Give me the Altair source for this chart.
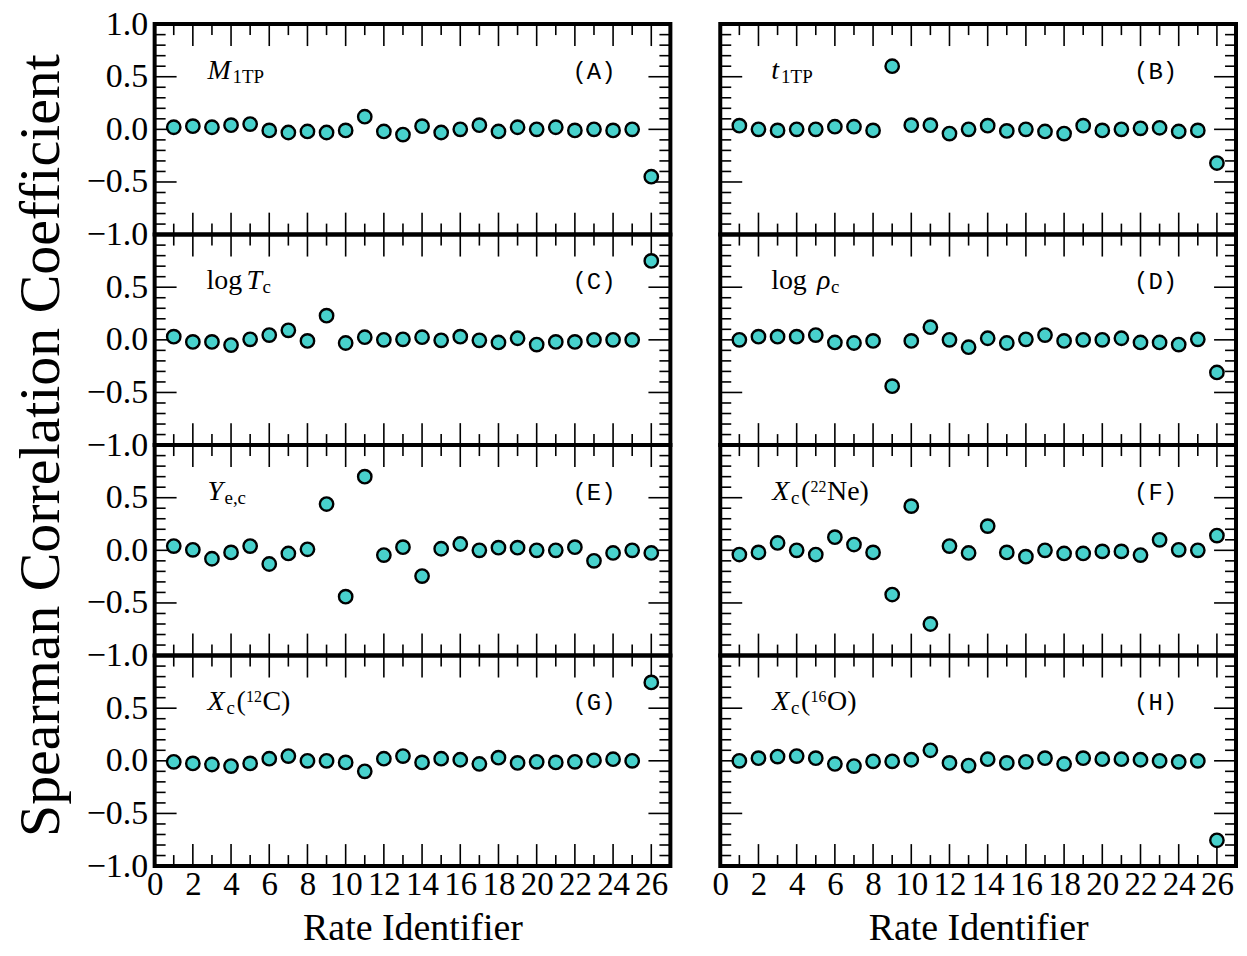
import altair as alt
import pandas as pd

SERIF = "Liberation Serif"
MONO = "Liberation Mono"
TEAL = "#48D1CC"

rate_id = list(range(1, 27))

m_1tp = [0.02, 0.03, 0.02, 0.04, 0.05, -0.01, -0.03, -0.02, -0.03, -0.01, 0.12, -0.02, -0.05,
         0.03, -0.03, 0.00, 0.04, -0.02, 0.02, 0.00, 0.02, -0.01, 0.00, -0.01, 0.00, -0.45]
t_1tp = [0.035, 0.00, -0.01, 0.00, 0.00, 0.025, 0.025, -0.01, 0.60, 0.04, 0.04, -0.04, 0.00,
         0.035, -0.015, 0.00, -0.02, -0.04, 0.035, -0.01, 0.00, 0.01, 0.015, -0.02, -0.01, -0.32]
log_tc = [0.03, -0.02, -0.02, -0.05, 0.005, 0.045, 0.09, -0.01, 0.23, -0.03, 0.025, 0.00, 0.005,
          0.025, -0.005, 0.03, -0.005, -0.025, 0.015, -0.045, -0.02, -0.02, 0.00, 0.00, 0.00, 0.75]
log_rhoc = [0.00, 0.03, 0.03, 0.03, 0.045, -0.025, -0.03, -0.01, -0.44, -0.01, 0.12, 0.00, -0.07,
            0.015, -0.03, 0.005, 0.045, -0.01, 0.00, 0.00, 0.015, -0.025, -0.025, -0.045, 0.005, -0.31]
y_ec = [0.04, 0.005, -0.08, -0.02, 0.04, -0.13, -0.03, 0.01, 0.44, -0.44, 0.70, -0.045, 0.03,
        -0.245, 0.015, 0.06, 0.00, 0.025, 0.025, 0.00, 0.00, 0.03, -0.10, -0.025, 0.00, -0.025]
x_ne22 = [-0.04, -0.02, 0.07, 0.00, -0.04, 0.125, 0.055, -0.02, -0.42, 0.42, -0.70, 0.04, -0.025,
          0.23, -0.02, -0.06, 0.00, -0.03, -0.03, -0.01, -0.01, -0.045, 0.10, 0.005, 0.00, 0.14]
x_c12 = [-0.01, -0.025, -0.035, -0.05, -0.025, 0.02, 0.045, 0.00, 0.00, -0.015, -0.10, 0.02, 0.045,
         -0.015, 0.02, 0.01, -0.03, 0.03, -0.02, -0.01, -0.015, -0.01, 0.005, 0.015, 0.00, 0.745]
x_o16 = [0.00, 0.025, 0.04, 0.045, 0.025, -0.03, -0.05, -0.005, -0.005, 0.01, 0.10, -0.02, -0.045,
         0.015, -0.02, -0.01, 0.025, -0.03, 0.025, 0.015, 0.015, 0.01, 0.00, -0.01, 0.00, -0.755]

panel_tags = ["(A)", "(B)", "(C)", "(D)", "(E)", "(F)", "(G)", "(H)"]
panel_series = [m_1tp, t_1tp, log_tc, log_rhoc, y_ec, x_ne22, x_c12, x_o16]
y_title = "Spearman Correlation Coefficient"
x_title = "Rate Identifier"

# label pieces: (text, dx, baseline y, font size, style)
MAIN, SUB, SUP = 28, 19, 16
BL, SBL, PBL = 55, 59, 47
panel_labels = [
    [("M", 53, BL, MAIN, "italic"), ("1TP", 78, SBL, SUB, "normal")],
    [("t", 51, BL, MAIN, "italic"), ("1TP", 61, SBL, SUB, "normal")],
    [("log", 52, BL, MAIN, "normal"), ("T", 92, BL, MAIN, "italic"), ("c", 108, SBL, SUB, "normal")],
    [("log", 51, BL, MAIN, "normal"), ("ρ", 97, BL, MAIN, "italic"), ("c", 111, SBL, SUB, "normal")],
    [("Y", 53, BL, MAIN, "italic"), ("e,c", 70, SBL, SUB, "normal")],
    [("X", 52, BL, MAIN, "italic"), ("c", 71, SBL, SUB, "normal"), ("(", 81, BL, MAIN, "normal"),
     ("22", 90.5, PBL, SUP, "normal"), ("Ne)", 107, BL, MAIN, "normal")],
    [("X", 53, BL, MAIN, "italic"), ("c", 72, SBL, SUB, "normal"), ("(", 82, BL, MAIN, "normal"),
     ("12", 91.5, PBL, SUP, "normal"), ("C)", 108, BL, MAIN, "normal")],
    [("X", 52, BL, MAIN, "italic"), ("c", 71, SBL, SUB, "normal"), ("(", 81, BL, MAIN, "normal"),
     ("16", 90.5, PBL, SUP, "normal"), ("O)", 107, BL, MAIN, "normal")],
]

major_x = [0, 2, 4, 6, 8, 10, 12, 14, 16, 18, 20, 22, 24, 26]
minor_x = [1, 3, 5, 7, 9, 11, 13, 15, 17, 19, 21, 23, 25]
major_y = [-1.0, -0.5, 0.0, 0.5, 1.0]
minor_y = [-0.9, -0.8, -0.7, -0.6, -0.4, -0.3, -0.2, -0.1, 0.1, 0.2, 0.3, 0.4, 0.6, 0.7, 0.8, 0.9]
ylabels_top = [1.0, 0.5, 0.0, -0.5, -1.0]
ylabels_rest = [0.5, 0.0, -0.5, -1.0]

W, H = 517, 211
MAJ, MIN = 22, 11
TW = 1.6

xscale = alt.Scale(domain=[0, 27], nice=False, zero=False)
yscale = alt.Scale(domain=[-1, 1], nice=False, zero=False)


def make_panel(i):
    row, col = divmod(i, 2)
    if row == 3:
        xaxis = alt.Axis(values=major_x, title=x_title, ticks=False, domain=False, grid=False,
                         labelFont=SERIF, labelFontSize=33, labelColor="black", labelPadding=3,
                         labelFlush=False, labelOverlap=False, titleFont=SERIF, titleFontSize=38,
                         titleFontWeight="normal", titleColor="black", titlePadding=8)
    else:
        xaxis = None
    if col == 0:
        yargs = dict(values=ylabels_top if row == 0 else ylabels_rest, format=".1f", title=None,
                     ticks=False, domain=False, grid=False, labelFont=SERIF, labelFontSize=34,
                     labelColor="black", labelPadding=7, labelFlush=False, labelOverlap=False)
        if row == 1:
            yargs.update(title=y_title, titleX=-113, titleY=H, titleAngle=270, titleAlign="center",
                         titleBaseline="middle", titleFont=SERIF, titleFontSize=58,
                         titleFontWeight="normal", titleColor="black")
        yaxis = alt.Axis(**yargs)
    else:
        yaxis = None

    df = pd.DataFrame({"id": rate_id, "v": panel_series[i]})
    X = alt.X("id:Q", scale=xscale, axis=xaxis)
    Y = alt.Y("v:Q", scale=yscale, axis=yaxis)

    layers = []
    dmx = pd.DataFrame({"id": major_x})
    dnx = pd.DataFrame({"id": minor_x})
    dmy = pd.DataFrame({"v": major_y})
    dny = pd.DataFrame({"v": minor_y})
    for d, L in ((dmx, MAJ), (dnx, MIN)):
        layers.append(alt.Chart(d).mark_rule(color="black", strokeWidth=TW).encode(
            x=X, y=alt.value(0), y2=alt.value(L)))
        layers.append(alt.Chart(d).mark_rule(color="black", strokeWidth=TW).encode(
            x=X, y=alt.value(H - L), y2=alt.value(H)))
    for d, L in ((dmy, MAJ), (dny, MIN)):
        layers.append(alt.Chart(d).mark_rule(color="black", strokeWidth=TW).encode(
            y=Y, x=alt.value(0), x2=alt.value(L)))
        layers.append(alt.Chart(d).mark_rule(color="black", strokeWidth=TW).encode(
            y=Y, x=alt.value(W - L), x2=alt.value(W)))

    layers.append(alt.Chart(df).mark_point(shape="circle", filled=True, fill=TEAL, stroke="black",
                                           strokeWidth=2.4, size=180, opacity=1).encode(x=X, y=Y))

    for (txt, dx, by, fs, style) in panel_labels[i]:
        layers.append(alt.Chart(pd.DataFrame({"s": [txt]})).mark_text(
            align="left", baseline="alphabetic", font=SERIF, fontSize=fs, fontStyle=style,
            color="black").encode(x=alt.value(dx), y=alt.value(by), text="s:N"))
    tag_dx = W - 55 if col == 0 else W - 59
    layers.append(alt.Chart(pd.DataFrame({"s": [panel_tags[i]]})).mark_text(
        align="right", baseline="alphabetic", font=MONO, fontSize=24, color="black").encode(
        x=alt.value(tag_dx), y=alt.value(BL), text="s:N"))

    return alt.layer(*layers).properties(width=W, height=H)


panels = [make_panel(i) for i in range(8)]

chart = alt.concat(*panels, columns=2, spacing={"row": 0, "column": 50}, bounds="flush").properties(
    padding={"top": -4, "left": 2, "right": 0, "bottom": 0},
    background="white",
).configure_view(stroke="black", strokeWidth=4)

chart.save("out.html", embed_options={"renderer": "svg", "actions": False})
